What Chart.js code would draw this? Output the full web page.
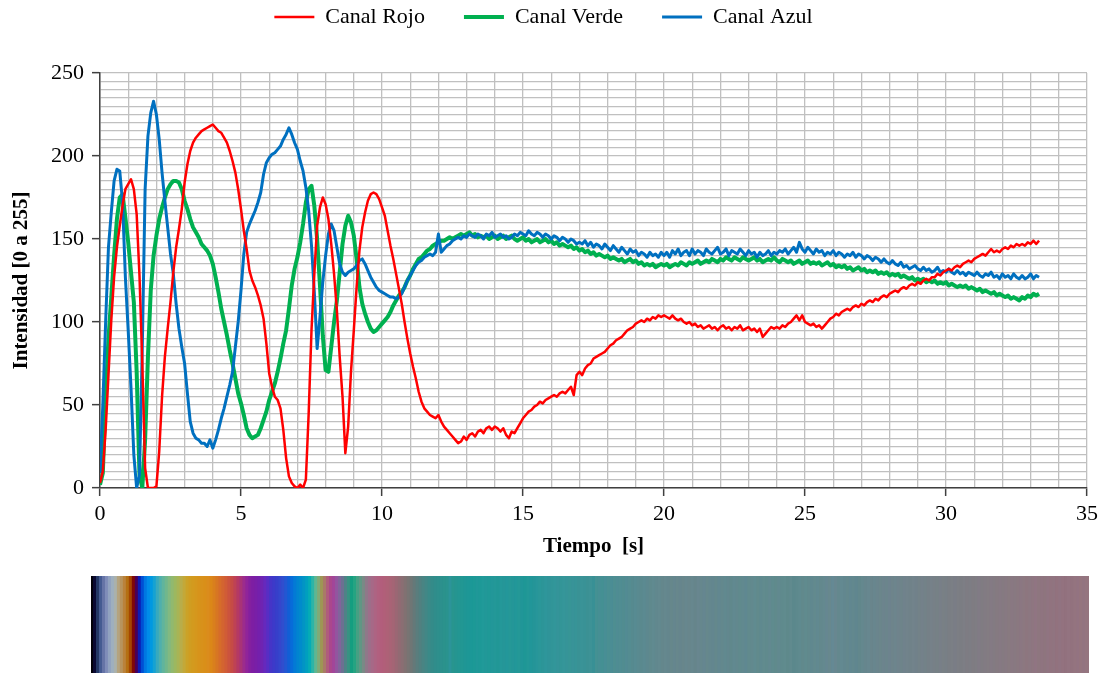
<!DOCTYPE html>
<html><head><meta charset="utf-8">
<script src="https://cdn.jsdelivr.net/npm/chart.js@4.4.1/dist/chart.umd.min.js"></script>
<style>
html,body{margin:0;padding:0;background:#fff;}
#main{position:absolute;left:0;top:0;width:1107px;height:565px;}
#tira{position:absolute;left:91px;top:576px;width:998px;height:97px;}
</style></head><body>
<div id="main"><canvas id="c1"></canvas></div>
<div id="tira"><canvas id="c2"></canvas></div>
<script>
const tiempo = [
0,0.1,0.2,0.3,0.4,0.5,0.6,0.7,0.8,0.9,
1,1.1,1.2,1.3,1.4,1.5,1.6,1.7,1.8,1.9,
2,2.1,2.2,2.3,2.4,2.5,2.6,2.7,2.8,2.9,
3,3.1,3.2,3.3,3.4,3.5,3.6,3.7,3.8,3.9,
4,4.1,4.2,4.3,4.4,4.5,4.6,4.7,4.8,4.9,
5,5.1,5.2,5.3,5.4,5.5,5.6,5.7,5.8,5.9,
6,6.1,6.2,6.3,6.4,6.5,6.6,6.7,6.8,6.9,
7,7.1,7.2,7.3,7.4,7.5,7.6,7.7,7.8,7.9,
8,8.1,8.2,8.3,8.4,8.5,8.6,8.7,8.8,8.9,
9,9.1,9.2,9.3,9.4,9.5,9.6,9.7,9.8,9.9,
10,10.1,10.2,10.3,10.4,10.5,10.6,10.7,10.8,10.9,
11,11.1,11.2,11.3,11.4,11.5,11.6,11.7,11.8,11.9,
12,12.1,12.2,12.3,12.4,12.5,12.6,12.7,12.8,12.9,
13,13.1,13.2,13.3,13.4,13.5,13.6,13.7,13.8,13.9,
14,14.1,14.2,14.3,14.4,14.5,14.6,14.7,14.8,14.9,
15,15.1,15.2,15.3,15.4,15.5,15.6,15.7,15.8,15.9,
16,16.1,16.2,16.3,16.4,16.5,16.6,16.7,16.8,16.9,
17,17.1,17.2,17.3,17.4,17.5,17.6,17.7,17.8,17.9,
18,18.1,18.2,18.3,18.4,18.5,18.6,18.7,18.8,18.9,
19,19.1,19.2,19.3,19.4,19.5,19.6,19.7,19.8,19.9,
20,20.1,20.2,20.3,20.4,20.5,20.6,20.7,20.8,20.9,
21,21.1,21.2,21.3,21.4,21.5,21.6,21.7,21.8,21.9,
22,22.1,22.2,22.3,22.4,22.5,22.6,22.7,22.8,22.9,
23,23.1,23.2,23.3,23.4,23.5,23.6,23.7,23.8,23.9,
24,24.1,24.2,24.3,24.4,24.5,24.6,24.7,24.8,24.9,
25,25.1,25.2,25.3,25.4,25.5,25.6,25.7,25.8,25.9,
26,26.1,26.2,26.3,26.4,26.5,26.6,26.7,26.8,26.9,
27,27.1,27.2,27.3,27.4,27.5,27.6,27.7,27.8,27.9,
28,28.1,28.2,28.3,28.4,28.5,28.6,28.7,28.8,28.9,
29,29.1,29.2,29.3,29.4,29.5,29.6,29.7,29.8,29.9,
30,30.1,30.2,30.3,30.4,30.5,30.6,30.7,30.8,30.9,
31,31.1,31.2,31.3,31.4,31.5,31.6,31.7,31.8,31.9,
32,32.1,32.2,32.3,32.4,32.5,32.6,32.7,32.8,32.9,
33,33.1,33.2,33.3
];

const canalRojo = [
3,10,35,68,101,127,145,158,170,180,
183,186,180,165,128,75,12,0,0,0,
1,22,55,79,96,112,130,145,156,168,
184,195,203,208,211,213,215,216,217,218,
219,217,215,214,211,208,203,197,190,180,
168,155,144,131,125,121,116,110,102,87,
69,61,55,53,48,35,18,7,3,1,
0,2,0,5,45,95,129,158,169,175,
171,162,147,129,107,79,55,21,37,70,
95,121,143,157,166,173,177,178,177,174,
169,164,155,146,138,129,120,111,100,90,
81,73,66,58,52,48,46,44,43,42,
44,40,37,35,33,31,29,27,28,31,
29,32,33,31,34,35,33,36,37,35,
37,36,34,36,32,30,34,33,36,39,
42,44,46,47,49,50,52,51,53,54,
55,56,55,57,58,57,59,61,56,68,
70,68,72,74,75,78,79,80,81,82,
84,86,87,89,90,91,93,95,96,97,
99,100,101,100,102,101,103,102,104,103,
104,103,102,104,102,101,102,100,99,100,
98,99,97,98,96,97,98,96,97,95,
97,98,96,97,95,97,96,98,95,96,
97,95,96,94,96,91,93,95,97,96,
97,96,98,97,99,100,102,104,101,104,
100,99,98,99,97,98,96,98,100,102,
103,105,104,106,107,108,107,109,110,109,
111,110,112,113,112,114,113,115,116,115,
117,118,119,118,120,121,120,122,123,122,
124,123,125,126,125,127,127,129,128,130,
131,132,131,133,134,133,135,136,137,136,
138,139,140,141,140,142,144,142,143,142,
144,145,144,146,145,147,146,147,146,148,
147,149,147,149
];

const canalVerde = [
2,9,55,90,115,140,162,175,177,163,
148,130,112,70,8,0,29,79,119,140,
152,162,169,175,180,183,185,185,184,180,
173,168,162,157,154,151,147,145,143,140,
135,127,118,108,100,92,83,75,66,57,
51,44,36,32,30,31,32,36,41,46,
53,58,63,70,78,87,95,108,122,132,
139,148,159,172,180,182,170,150,122,92,
71,70,85,100,113,130,147,158,164,160,
152,138,121,111,105,100,96,94,95,97,
99,101,103,106,110,113,116,118,121,125,
128,132,135,138,139,141,143,144,146,147,
148,149,149,150,151,150,151,152,153,152,
153,154,152,153,151,152,151,152,150,151,
152,150,151,152,150,151,152,150,149,150,
151,149,150,148,149,150,148,149,150,148,
149,147,148,146,147,146,145,146,144,145,
143,144,142,143,141,142,140,141,140,139,
140,138,139,138,137,138,136,137,138,136,
137,135,136,134,135,134,135,133,134,135,
134,135,133,134,135,134,136,135,134,136,
135,136,137,135,136,137,136,138,137,136,
138,137,139,138,137,139,138,137,139,138,
137,138,139,137,138,136,137,138,137,139,
137,136,138,137,136,137,135,136,137,135,
136,137,135,136,135,136,134,135,136,134,
135,133,134,133,134,132,133,131,132,133,
131,132,130,131,130,131,129,130,129,130,
128,129,128,129,127,128,127,126,127,125,
126,125,126,124,125,124,125,123,124,123,
124,122,123,122,121,122,121,122,120,121,
120,119,120,118,119,118,117,118,116,117,
116,115,116,114,115,114,113,115,114,116,
115,117,116,117
];

const canalAzul = [
9,50,100,145,166,185,192,191,172,127,
95,60,20,0,8,85,180,212,226,233,
225,210,190,173,157,141,129,111,96,85,
75,57,40,33,30,29,27,27,25,29,
24,29,35,42,48,55,62,70,85,100,
119,141,154,159,163,167,172,178,189,196,
199,201,202,204,206,210,213,217,213,208,
204,197,191,181,167,146,118,84,103,124,
140,153,159,155,145,135,130,128,130,131,
132,134,137,138,135,131,127,124,121,119,
118,117,116,115,115,114,115,117,121,125,
128,131,134,136,137,139,140,141,140,142,
153,142,144,146,147,149,150,151,150,152,
151,153,152,151,153,152,150,153,152,154,
151,152,153,151,152,150,151,153,152,154,
153,152,155,153,152,154,153,151,153,152,
150,152,151,149,151,150,148,150,149,147,
148,147,149,146,148,145,147,146,144,147,
145,143,146,144,142,145,143,141,144,142,
143,140,142,141,139,142,140,141,139,142,
140,142,139,143,141,144,140,142,143,140,
144,141,143,142,140,144,142,141,143,145,
141,142,144,140,143,142,141,144,142,140,
143,141,142,139,142,140,141,143,140,142,
141,143,142,144,141,143,145,142,148,144,
142,145,143,141,144,142,143,140,142,141,
143,140,142,141,139,141,140,142,139,141,
140,138,140,139,137,139,138,136,138,136,
135,137,135,134,136,133,134,132,133,134,
132,131,133,131,132,130,131,133,130,131,
130,132,130,129,131,129,130,128,130,129,
128,130,128,127,129,128,130,127,128,126,
129,127,128,126,129,127,126,128,126,127,
129,126,128,127
];

const ticksX = [0,5,10,15,20,25,30,35];
const ticksY = [0,50,100,150,200,250];
const nombres = ['Canal Rojo','Canal Verde','Canal Azul'];
const colores = ['#FF0000','#00B050','#0070C0'];
const grosores = [2.5,4,3];
const tituloX = 'Tiempo  [s]';
const tituloY = 'Intensidad [0 a 255]';

const fuente = "'Liberation Serif', 'Times New Roman', serif";
const series = [canalRojo, canalVerde, canalAzul];
const ordenDibujo = [0, 2, 1];

const espacioLeyenda = {
  id: 'espacioLeyenda',
  afterInit(chart) {
    const lg = chart.legend;
    if (!lg) return;
    const fit0 = lg.fit.bind(lg);
    lg.fit = function () {
      fit0();
      this.height += 35;
      if (this.minSize) this.minSize.height = this.height;
    };
  }
};

const colorMarca = (lista) => (ctx) =>
  (ctx.tick && lista.includes(ctx.tick.value)) ? '#404040' : 'rgba(0,0,0,0)';

new Chart(document.getElementById('c1'), {
  type: 'line',
  data: {
    datasets: series.map((s, k) => ({
      label: nombres[k],
      data: tiempo.map((t, i) => ({ x: t, y: s[i] })),
      borderColor: colores[k],
      backgroundColor: colores[k],
      borderWidth: grosores[k],
      pointBorderWidth: grosores[k],
      pointRadius: 0,
      pointHoverRadius: 0,
      tension: 0,
      fill: false,
      borderJoinStyle: 'round',
      order: ordenDibujo[k]
    }))
  },
  options: {
    responsive: true,
    maintainAspectRatio: false,
    animation: false,
    events: [],
    layout: { padding: { top: 0, right: 20, bottom: 0, left: 0 } },
    plugins: {
      tooltip: { enabled: false },
      legend: {
        position: 'top',
        labels: {
          usePointStyle: true,
          pointStyle: 'line',
          pointStyleWidth: 40,
          padding: 6,
          color: '#000',
          font: { family: fuente, size: 22 },
          sort: (a, b) => a.datasetIndex - b.datasetIndex,
          generateLabels: (chart) => {
            const items = Chart.defaults.plugins.legend.labels.generateLabels(chart);
            items.forEach(it => { if (it.datasetIndex < 2) it.text = it.text + '      '; });
            return items;
          }
        }
      }
    },
    scales: {
      x: {
        type: 'linear',
        min: 0, max: 35,
        afterFit: (s) => { s.height = 77; },
        ticks: {
          stepSize: 1, autoSkip: false, maxRotation: 0, minRotation: 0,
          padding: 5, color: '#000',
          font: { family: fuente, size: 22 },
          callback: (v) => ticksX.includes(v) ? String(v) : ''
        },
        grid: {
          color: '#C0C0C0', lineWidth: 1.3,
          tickLength: 8, tickWidth: 1.5,
          tickColor: colorMarca(ticksX)
        },
        border: { color: '#404040', width: 1.5 },
        title: {
          display: true, text: tituloX, color: '#000',
          font: { family: fuente, size: 21, weight: 'bold' },
          padding: { top: 0, bottom: 6 }
        }
      },
      y: {
        type: 'linear',
        min: 0, max: 250,
        afterFit: (s) => { s.width = 100; },
        ticks: {
          stepSize: 5, autoSkip: false, padding: 8, color: '#000',
          font: { family: fuente, size: 22 },
          callback: (v) => ticksY.includes(v) ? String(v) : ''
        },
        grid: {
          color: '#C0C0C0', lineWidth: 1.3,
          tickLength: 8, tickWidth: 1.5,
          tickColor: colorMarca(ticksY)
        },
        border: { color: '#404040', width: 1.5 },
        title: {
          display: true, text: tituloY, color: '#000',
          font: { family: fuente, size: 21, weight: 'bold' },
          padding: { top: 9, bottom: 0 }
        }
      }
    }
  },
  plugins: [espacioLeyenda]
});

new Chart(document.getElementById('c2'), {
  type: 'bar',
  data: {
    labels: tiempo,
    datasets: [{
      data: tiempo.map(() => 1),
      backgroundColor: tiempo.map((t, i) => 'rgb(' + canalRojo[i] + ',' + canalVerde[i] + ',' + canalAzul[i] + ')'),
      borderWidth: 0,
      barPercentage: 1,
      categoryPercentage: 1,
      inflateAmount: 1
    }]
  },
  options: {
    responsive: true,
    maintainAspectRatio: false,
    animation: false,
    events: [],
    layout: { padding: 0 },
    plugins: { legend: { display: false }, tooltip: { enabled: false } },
    scales: {
      x: { display: false },
      y: { display: false, min: 0, max: 1 }
    }
  }
});
</script>
</body></html>
